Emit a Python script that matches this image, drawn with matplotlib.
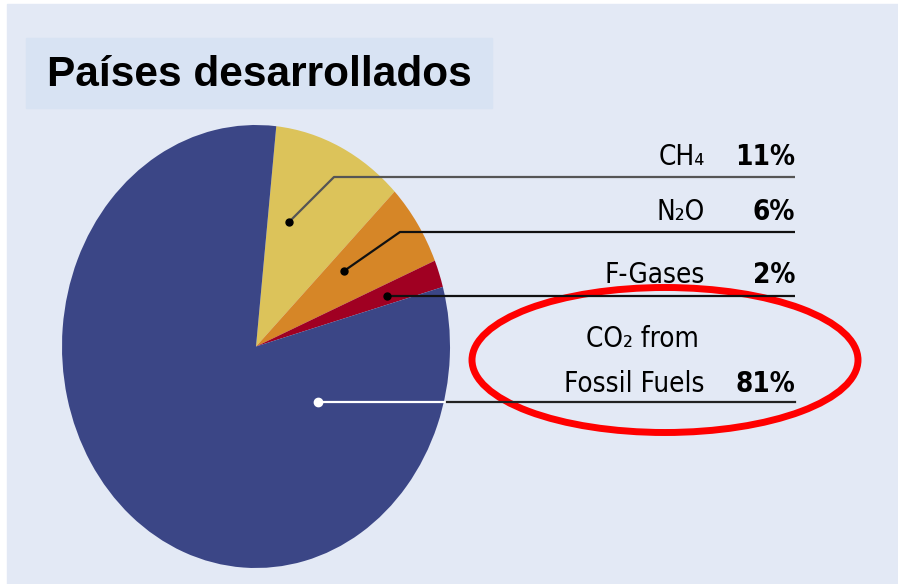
import matplotlib.pyplot as plt
from matplotlib.patches import Rectangle, Ellipse

# data
gases = ['CH₄', 'N₂O', 'F-Gases', 'CO₂ from\nFossil Fuels']
shares = [11, 6, 2, 81]
colors = ['#DCC35A', '#D68627', '#A00022', '#3B4686']
title = 'Países desarrollados'

W, H = 898, 584
fig = plt.figure(figsize=(W / 100, H / 100), dpi=100)
fig.patch.set_facecolor('white')

# overlay in pixel coords
bg = fig.add_axes([0, 0, 1, 1])
bg.set_xlim(0, W)
bg.set_ylim(H, 0)
bg.axis('off')
bg.add_patch(Rectangle((7, 4), W - 7, H - 4, color='#E3E9F5', zorder=0))
bg.add_patch(Rectangle((26, 38), 466, 70, color='#D8E3F3', zorder=1))
bg.text(47, 75, title, fontsize=30.5, fontweight='bold', family='Liberation Sans',
        va='center', ha='left', zorder=2)

# pie (stretched into an ellipse)
px0, px1, py0, py1 = 62, 450, 125, 568
ax = fig.add_axes([px0 / W, 1 - py1 / H, (px1 - px0) / W, (py1 - py0) / H])
ax.pie(shares, colors=colors, startangle=84, counterclock=False,
       wedgeprops=dict(linewidth=0))
ax.set_aspect('auto')
ax.set_xlim(-1, 1)
ax.set_ylim(-1, 1)
ax.axis('off')

# leader lines: (dot, elbow)
leaders = [((289, 222), (334, 177)),
           ((344, 271), (400, 232)),
           ((387, 296), (387, 296)),
           ((318, 402), (318, 402))]
line_cols = ['#555555', '#111111', '#111111', '#222222']
x_end = 795
ov = fig.add_axes([0, 0, 1, 1])
ov.set_xlim(0, W)
ov.set_ylim(H, 0)
ov.axis('off')
for i, ((dx, dy), (ex, ey)) in enumerate(leaders):
    if i < 3:
        ov.plot([dx, ex, x_end], [dy, ey, ey], color=line_cols[i], lw=1.6,
                solid_capstyle='butt')
        ov.plot(dx, dy, 'o', color='black', ms=5)
    else:
        ov.plot([dx, 447], [dy, dy], color='white', lw=1.6)
        ov.plot([447, x_end], [dy, dy], color=line_cols[i], lw=1.6)
        ov.plot(dx, dy, 'o', color='white', ms=6)

fam = 'DejaVu Sans'
fs = 20
lab_y = [165, 220, 283, 392]
for g, s, y in zip(gases, shares, lab_y):
    if '\n' in g:
        a, b = g.split('\n')
        ov.text(642, 347, a, ha='center', va='baseline', fontsize=fs, family=fam,
                fontstretch='condensed')
        ov.text(705, y, b, ha='right', va='baseline', fontsize=fs, family=fam,
                fontstretch='condensed')
    else:
        ov.text(705, y, g, ha='right', va='baseline', fontsize=fs, family=fam,
                fontstretch='condensed')
    ov.text(795, y, f'{s}%', ha='right', va='baseline', fontsize=fs,
            fontweight='bold', family=fam, fontstretch='condensed')

ov.add_patch(Ellipse((665, 360), 386, 145, fill=False, edgecolor='#FF0000', lw=5))

fig.savefig('out.png', dpi=100)
